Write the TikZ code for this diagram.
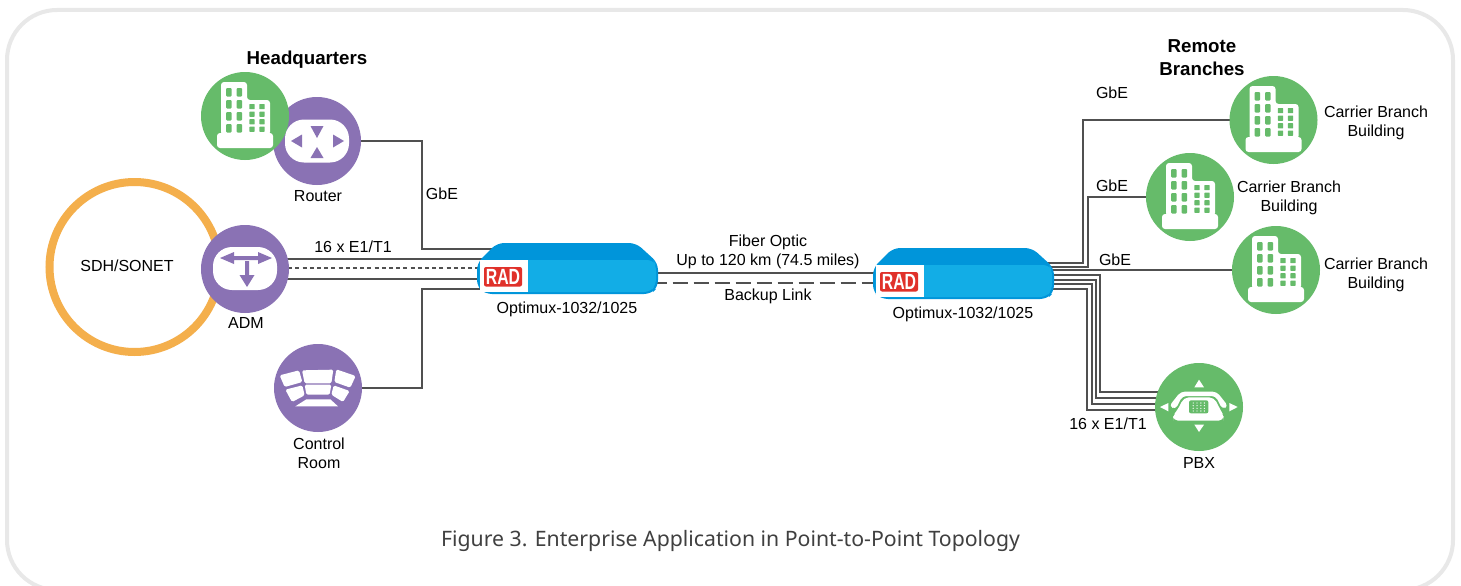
\documentclass[tikz,border=0pt]{standalone}
\usepackage{fontspec}
\setmainfont{Liberation Sans}
\newfontfamily\capfont{Noto Sans}
\pgfdeclarelayer{back}
\pgfdeclarelayer{wires}
\pgfsetlayers{back,wires,main}
\definecolor{frameC}{HTML}{E8E8E8}
\definecolor{purpleC}{HTML}{8A72B4}
\definecolor{greenC}{HTML}{66BB6A}
\definecolor{ringC}{HTML}{F4AF4C}
\definecolor{wireC}{HTML}{505050}
\definecolor{frontC}{HTML}{12ADE6}
\definecolor{topC}{HTML}{0095DA}
\definecolor{redC}{HTML}{E0312A}
\definecolor{capC}{HTML}{404040}
\tikzset{
  disc/.style={circle,inner sep=0pt,minimum size=88pt},
  purpledisc/.style={disc,fill=purpleC},
  greendisc/.style={disc,fill=greenC},
  wire/.style={draw=wireC,line width=2pt},
  lab/.style={inner sep=0pt,align=center,text=black,font=\fontsize{16}{19}\selectfont},
  boldlab/.style={inner sep=0pt,align=center,text=black,font=\fontsize{18.7}{22.5}\selectfont\bfseries},
  devbox/.style={inner sep=0pt,minimum width=181pt,minimum height=51pt},
}
\newcommand\bldgicon[1]{%
\begin{scope}[shift={(#1.center)},x=1pt,y=-1pt]
 \fill[white,rounded corners=3pt] (-24,19) -- (-24,-34) -- (2,-34) -- (2,-16) -- (25,-16) -- (25,19) -- cycle;
 \fill[white,rounded corners=3pt] (-28,17) rectangle (28,32);
 \foreach \x in {-19,-8.5}\foreach \y in {-28,-16,-4,8}{\fill[greenC,rounded corners=1pt] (\x,\y) rectangle +(5.7,8.5);}
 \foreach \x in {4.3,14.3}\foreach \y in {-12,-4.4,3.2,10.6}{\fill[greenC,rounded corners=.6pt] (\x,\y) rectangle +(5.4,5.2);}
\end{scope}}
\newcommand\routericon[1]{%
\begin{scope}[shift={(#1.center)},x=1pt,y=-1pt]
 \fill[white,rounded corners=19pt] (-32,-21.5) rectangle (32,21.5);
 \fill[purpleC] (-26,0) -- (-15,-6.5) -- (-15,6.5) -- cycle;
 \fill[purpleC] (27,0) -- (16,-6.5) -- (16,6.5) -- cycle;
 \fill[purpleC] (0,-3) -- (-6.5,-15) -- (6.5,-15) -- cycle;
 \fill[purpleC] (0,6) -- (-6.5,17) -- (6.5,17) -- cycle;
\end{scope}}
\newcommand\admicon[1]{%
\begin{scope}[shift={(#1.center)},x=1pt,y=-1pt]
 \fill[white,rounded corners=19pt] (-32,-22) rectangle (32,21);
 \fill[purpleC] (-25,-11) -- (-11,-17) -- (-11,-13) -- (13,-13) -- (13,-17) -- (27,-11) -- (13,-5) -- (13,-9) -- (-11,-9) -- (-11,-5) -- cycle;
 \fill[purpleC] (0,-8) -- (4,-8) -- (4,6) -- (9.5,6) -- (2,18) -- (-5.5,6) -- (0,6) -- cycle;
\end{scope}}
\newcommand\ctrlicon[1]{%
\begin{scope}[shift={(#1.center)},x=.3333pt,y=-.3333pt]
 \fill[white,rounded corners=1.5pt] (-48,-53) -- (46,-55) -- (40,-14) -- (-40,-14) -- cycle;
 \fill[white,rounded corners=1.5pt] (-40,-10) -- (40,-10) -- (35,20) -- (-35,20) -- cycle;
 \fill[white,rounded corners=1.5pt] (-115,-38) -- (-57,-53) -- (-47,-18) -- (-100,-3) -- cycle;
 \fill[white,rounded corners=1.5pt] (-98,5) -- (-47,-8) -- (-40,22) -- (-78,42) -- cycle;
 \fill[white,rounded corners=1.5pt] (55,-56) -- (113,-36) -- (97,-1) -- (49,-18) -- cycle;
 \fill[white,rounded corners=1.5pt] (47,-8) -- (95,9) -- (75,42) -- (40,20) -- cycle;
 \fill[white] (-35,34) -- (37,34) -- (60,55) -- (-68,55) -- cycle;
\end{scope}}
\newcommand\pbxicon[1]{%
\begin{scope}[shift={(#1.center)},x=.3333pt,y=-.3333pt]
 \fill[white] (0,-82) -- (-14,-59) -- (15,-59) -- cycle;
 \fill[white] (0,75) -- (-14,53) -- (15,53) -- cycle;
 \fill[white] (-117,0) -- (-92,-12) -- (-92,13) -- cycle;
 \fill[white] (116,0) -- (91,-12) -- (91,13) -- cycle;
 \fill[white,rounded corners=4pt] (-90,-2) -- (-55,-46) -- (53,-46) -- (88,-2) -- (70,7) -- (50,-33) -- (-50,-33) -- (-70,7) -- cycle;
 \fill[white,rounded corners=5pt] (-78,41) -- (-78,26) -- (-64,8) -- (-45,-29) -- (45,-29) -- (64,8) -- (74,26) -- (74,41) -- cycle;
 \fill[greenC,rounded corners=2pt] (-30,-20) rectangle (28,19);
 \foreach \x in {-17.5,-6,5.5,16}\foreach \y in {-12,-4,4,12}{\fill[white] (\x,\y) circle (2);}
\end{scope}}
\newcommand\deviceicon[1]{%
\begin{scope}[shift={(#1.center)},x=1pt,y=-1pt]
\begin{scope}[shift={(-90.5,-25.5)}]
 \fill[topC,rounded corners=7pt] (0,20) -- (20,0) -- (159,0) -- (181,20) -- (181,44) -- (174,51) -- (8,51) -- (0,44) -- cycle;
 \fill[frontC,rounded corners=6pt] (2.5,17) -- (176,17) -- (179,22) -- (179,42) -- (173,49) -- (9,49) -- (2.5,42) -- cycle;
 \fill[white] (3,17) rectangle (51,49);
 \fill[redC,rounded corners=2pt] (7,24) rectangle (45,43.5);
 \node (#1logo) [inner sep=0pt,text=white,xscale=.72,font=\fontsize{22}{22}\selectfont\bfseries] at (26,33.8) {RAD};
\end{scope}
\end{scope}}
\begin{document}
\begin{tikzpicture}[x=1pt,y=-1pt]
\useasboundingbox (0,0) rectangle (1461,586);
\begin{pgfonlayer}{back}
 \fill[white] (0,0) rectangle (1461,586);
 \begin{scope}
  \clip (0,0) rectangle (1461,586);
  \draw[frameC,line width=4pt,rounded corners=50pt] (7,10) rectangle (1453,590);
 \end{scope}
\end{pgfonlayer}

\draw[ringC,line width=8pt] (134.5,267) circle (85);

\node[purpledisc] (router) at (317,141) {};
\node[greendisc] (hq) at (245,116) {};
\node[purpledisc] (adm) at (245,269) {};
\node[purpledisc] (ctrl) at (318,388) {};
\node[devbox] (dev1) at (567.5,268.5) {};
\node[devbox] (dev2) at (963.5,273.5) {};
\node[greendisc] (b1) at (1273.5,120) {};
\node[greendisc] (b2) at (1190,197) {};
\node[greendisc] (b3) at (1276,270) {};
\node[greendisc] (pbx) at (1199,407) {};

\bldgicon{hq}\routericon{router}\admicon{adm}\ctrlicon{ctrl}
\deviceicon{dev1}\deviceicon{dev2}
\bldgicon{b1}\bldgicon{b2}\bldgicon{b3}\pbxicon{pbx}

\begin{pgfonlayer}{wires}
 \coordinate (hqbend) at (422,249);
 \coordinate (ctrlbend) at (422,289);
 \draw[wire] (router.center) -| (hqbend) -- (dev1.center |- hqbend);
 \draw[wire] (ctrl.center) -| (ctrlbend) -- (dev1.center |- ctrlbend);
 \draw[wire] (adm.center |- 0,259) -- (dev1.center |- 0,259);
 \draw[wire,dash pattern=on 4pt off 3.2pt] (adm.center |- 0,268) -- (dev1.center |- 0,268);
 \draw[wire] (adm.center |- 0,279) -- (dev1.center |- 0,279);
 \draw[wire] (dev1.center |- 0,273) -- (dev2.center |- 0,273);
 \draw[wire,dash pattern=on 15pt off 6pt] (dev1.center |- 0,283) -- (dev2.center |- 0,283);
 \coordinate (c1) at (1083,262.5);
 \coordinate (c2) at (1088,267);
 \draw[wire] (dev2.center |- c1) -- (c1) |- (b1.center);
 \draw[wire] (dev2.center |- c2) -- (c2) |- (b2.center);
 \draw[wire] (dev2.center |- b3.center) -- (b3.center);
 \foreach \xx/\ya/\yb in {1100/275/392,1096/279.5/398,1091.5/284/404,1087/289/410}{
  \draw[wire] (dev2.center |- 0,\ya) -- (\xx,\ya) -- (\xx,\yb) -- (pbx.center |- 0,\yb);
 }
\end{pgfonlayer}

\node[boldlab] (thq) at (307,59.5) {Headquarters};
\node[lab] (trouter) at (318,196.5) {Router};
\node[lab] (tgbe) at (442,193.5) {GbE};
\node[lab] (t16a) at (353,246.5) {16 x E1/T1};
\node[lab] (tsdh) at (127,266) {SDH/SONET};
\node[lab] (tadm) at (246,323) {ADM};
\node[lab] (tctrl) at (319,453) {Control\\Room};
\node[lab] (topt1) at (567,309) {Optimux-1032/1025};
\node[lab] (tfiber) at (768,251.5) {Fiber Optic\\Up to 120 km (74.5 miles)};
\node[lab] (tbackup) at (768,296) {Backup Link};
\node[lab] (topt2) at (963,314.5) {Optimux-1032/1025};
\node[boldlab] (tremote) at (1202,57.5) {Remote\\Branches};
\node[lab] (tg1) at (1112,92.5) {GbE};
\node[lab] (tg2) at (1112,185.5) {GbE};
\node[lab] (tg3) at (1115,259.5) {GbE};
\node[lab] (tc1) at (1376,123) {Carrier Branch\\Building};
\node[lab] (tc2) at (1289,198) {Carrier Branch\\Building};
\node[lab] (tc3) at (1376,275) {Carrier Branch\\Building};
\node[lab] (t16b) at (1108,423.5) {16 x E1/T1};
\node[lab] (tpbx) at (1199,462.5) {PBX};
\node[inner sep=0pt,text=capC,font=\capfont\fontsize{21.25}{24}\selectfont] (tcap) at (730.5,540.5) {Figure 3. Enterprise Application in Point-to-Point Topology};
\end{tikzpicture}
\end{document}
